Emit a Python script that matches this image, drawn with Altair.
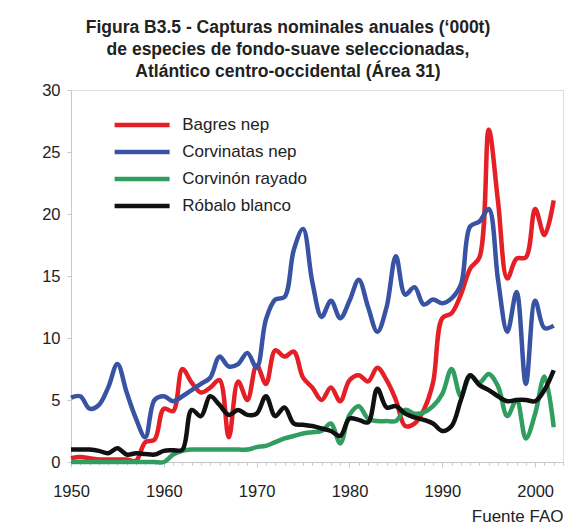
import altair as alt
import pandas as pd

years = list(range(1950, 2003))

bagres = [0.3, 0.4, 0.3, 0.2, 0.2, 0.2, 0.2, 0.1, 1.6, 1.8,
          4.3, 4.1, 7.5, 6.4, 5.6, 6.0, 6.6, 2.0, 6.5, 5.0,
          7.8, 6.3, 9.0, 8.5, 8.9, 6.8, 6.0, 5.0, 6.0, 4.9,
          6.6, 7.0, 6.5, 7.6, 6.6, 5.0, 2.9, 3.1, 4.2, 6.4,
          11.6, 12.0, 13.5, 15.6, 16.5, 26.8, 21.0, 14.8, 16.4, 16.5,
          20.4, 18.3, 21.1]
corvinatas = [5.2, 5.3, 4.3, 4.6, 6.0, 7.9, 5.6, 3.5, 2.0, 5.0,
              5.3, 4.9, 5.3, 5.8, 6.3, 6.8, 8.5, 7.7, 7.9, 8.8,
              7.6, 11.5, 13.1, 13.3, 17.1, 18.8, 14.5, 11.7, 13.0, 11.6,
              13.0, 14.7, 12.5, 10.5, 12.5, 16.6, 13.5, 14.1, 12.7, 13.1,
              12.8, 13.2, 14.3, 19.0, 19.4, 20.4, 14.7, 10.5, 13.7, 6.3,
              13.0, 10.8, 11.0]
corvinon = [0.0, 0.0, 0.0, 0.0, 0.0, 0.0, 0.0, 0.0, 0.0, 0.0,
            0.0, 0.6, 0.9, 1.0, 1.0, 1.0, 1.0, 1.0, 1.0, 1.0,
            1.2, 1.3, 1.6, 1.9, 2.1, 2.3, 2.4, 2.5, 3.1, 1.5,
            3.8, 4.5, 3.5, 3.3, 3.3, 3.3, 4.2, 3.9, 4.0, 4.5,
            5.5, 7.5, 5.3, 6.9, 6.4, 7.1, 6.1, 3.7, 5.0, 1.9,
            3.9, 6.9, 2.8]
robalo = [1.0, 1.0, 1.0, 0.9, 0.7, 1.1, 0.6, 0.7, 0.65, 0.6,
          0.9, 0.95, 1.0, 4.2, 3.7, 5.3, 4.6, 3.8, 4.2, 3.8,
          3.9, 5.3, 3.7, 4.4, 3.1, 3.0, 2.9, 2.7, 2.5, 2.1,
          3.5, 3.4, 3.2, 5.9, 4.4, 4.5, 3.9, 3.6, 3.4, 3.1,
          2.5, 2.9, 5.0, 7.0, 6.2, 5.8, 5.3, 4.9, 5.0, 5.0,
          4.9, 5.8, 7.4]

series_names = ["Bagres nep", "Corvinatas nep", "Corvinón rayado", "Róbalo blanco"]
series_colors = ["#e41f26", "#3953a4", "#2f9e5f", "#111111"]
series_widths = [4.5, 4.5, 4.5, 1.8]

title_lines = ["Figura B3.5 - Capturas nominales anuales (‘000t)",
               "de especies de fondo-suave seleccionadas,",
               "Atlántico centro-occidental (Área 31)"]
y_ticks = [0, 5, 10, 15, 20, 25, 30]
x_ticks = list(range(1950, 2004))
source_text = "Fuente FAO"

rows = []
for name, vals in zip(series_names, [bagres, corvinatas, corvinon, robalo]):
    for yr, v in zip(years, vals):
        rows.append({"year": yr, "value": v, "serie": name})
df = pd.DataFrame(rows)

FONT = "Liberation Sans"

legend = alt.Legend(
    title=None, orient="none", legendX=61.6, legendY=25.5,
    symbolType="M-4,0H4", symbolSize=189,
    labelFontSize=17, labelFont=FONT, labelColor="#222222",
    labelOffset=30.6, rowPadding=8, padding=0,
)

chart = alt.Chart(df).mark_line(interpolate="catmull-rom").encode(
    x=alt.X("year:Q",
            scale=alt.Scale(domain=[1950, 2003], nice=False, zero=False),
            axis=alt.Axis(values=x_ticks, format="d",
                          labelExpr="datum.value % 10 === 0 ? datum.label : ''",
                          labelOverlap=False, labelFlush=False, grid=False,
                          tickSize={"condition": {"test": "datum.value % 10 === 0", "value": 5}, "value": 3},
                          tickColor="#c8c8c8", domainColor="#c8c8c8",
                          labelFontSize=16.5, labelFont=FONT, labelColor="#222222",
                          labelPadding=16,
                          title=source_text, titleAnchor="end", titleAlign="right",
                          titleFontWeight="normal", titleFontSize=17, titleFont=FONT,
                          titleColor="#222222", titlePadding=9)),
    y=alt.Y("value:Q",
            scale=alt.Scale(domain=[0, 30], nice=False),
            axis=alt.Axis(values=y_ticks, title=None, grid=False,
                          tickSize=4, tickColor="#c8c8c8", domainColor="#c8c8c8",
                          labelFontSize=16.5, labelFont=FONT, labelColor="#222222",
                          labelPadding=7)),
    color=alt.Color("serie:N", scale=alt.Scale(domain=series_names, range=series_colors), legend=legend),
    strokeWidth=alt.StrokeWidth("serie:N", scale=alt.Scale(domain=series_names, range=series_widths), legend=legend),
).properties(
    width=492, height=372,
    autosize=alt.AutoSizeParams(type="none"),
    padding={"left": 63, "top": 82, "right": 5, "bottom": 70},
    title=alt.TitleParams(text=title_lines, fontSize=17.5, fontWeight="bold", font=FONT,
                          lineHeight=22, anchor="middle", dx=-29, offset=2, color="#222222"),
).configure_view(stroke=None).configure(background="white")

chart.save("out.html", embed_options={"renderer": "svg", "actions": False})
